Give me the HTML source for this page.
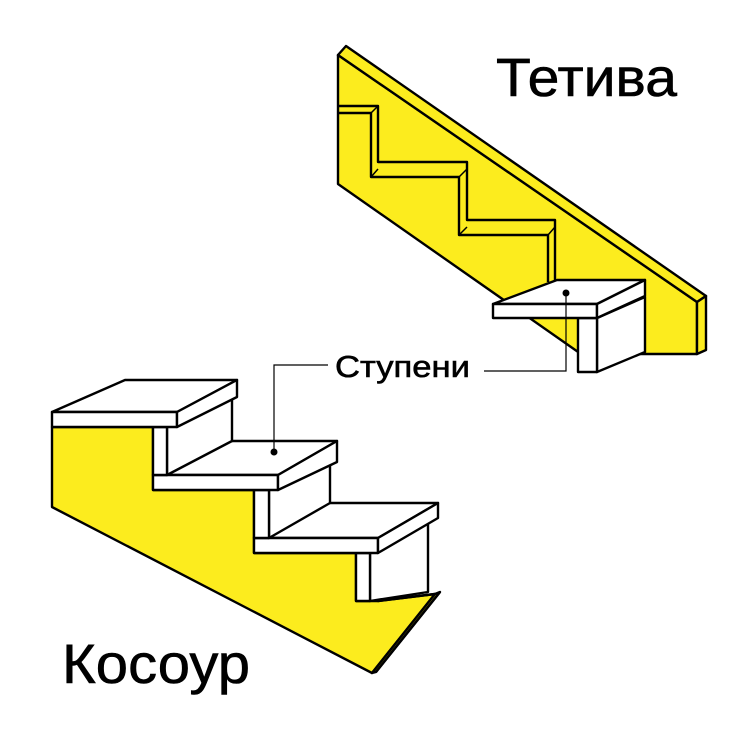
<!DOCTYPE html>
<html><head><meta charset="utf-8"><style>
html,body{margin:0;padding:0;background:#fff;}
svg{display:block}
text{font-family:"Liberation Sans",sans-serif;fill:#000;stroke:#000;stroke-width:0.6}
</style></head><body>
<svg width="740" height="740" viewBox="0 0 740 740" xmlns="http://www.w3.org/2000/svg">
<g stroke="#000" stroke-width="2.4" stroke-linejoin="round" fill="none">
<!-- Tetiva board -->
<polygon points="338,55 697,302 697,354 581,354 338,184" fill="#fcec1e"/>
<polygon points="338,55 346,46 706,296 697,302" fill="#fcec1e"/>
<polygon points="697,302 706,296 706,350 697,354" fill="#fcec1e"/>
<!-- groove -->
<polyline points="338,106 378,106 378,162 467,162 467,220 555,220 555,282"/>
<polyline points="338,113 371,113 371,177 459,177 459,235 548,235 548,282"/>
<line x1="371" y1="113" x2="378" y2="106" stroke-width="1.5"/>
<line x1="371" y1="177" x2="378" y2="169" stroke-width="1.5"/>
<line x1="459" y1="177" x2="467" y2="169" stroke-width="1.5"/>
<line x1="459" y1="235" x2="467" y2="227" stroke-width="1.5"/>
<line x1="548" y1="235" x2="555" y2="227" stroke-width="1.5"/>
<!-- tetiva step -->
<polygon points="597,318 645,297 645,352 597,372" fill="#fff"/>
<rect x="578" y="318" width="19" height="54" fill="#fff"/>
<polygon points="493,304 557,280 645,280 597,304" fill="#fff"/>
<rect x="493" y="304" width="104" height="14" fill="#fff"/>
<polygon points="597,304 645,280 645,296 597,318" fill="#fff"/>

<!-- Kosour stringer -->
<polygon points="52,427 153,427 153,490 254,490 254,553 356,553 356,601 378,601 435,594 372,673 52,507" fill="#fcec1e"/>
<polygon points="378,601 435,594 440,592 376,672 372,673 435,594" fill="#fcec1e"/>
<line x1="440" y1="592" x2="376" y2="672"/>
<!-- riser 3 -->
<polygon points="370,553 428,520 428,592 370,601" fill="#fff"/>
<rect x="356" y="553" width="14" height="48" fill="#fff"/>
<!-- tread 3 -->
<polygon points="254,538 323,503 438,503 378,538" fill="#fff"/>
<rect x="254" y="538" width="124" height="15" fill="#fff"/>
<polygon points="378,538 438,503 438,518 378,553" fill="#fff"/>
<!-- riser 2 -->
<polygon points="269,490 330,462 330,503 269,538" fill="#fff"/>
<rect x="254" y="490" width="15" height="48" fill="#fff"/>
<!-- tread 2 -->
<polygon points="153,475 226,441 337,441 278,475" fill="#fff"/>
<rect x="153" y="475" width="125" height="15" fill="#fff"/>
<polygon points="278,475 337,441 337,462 278,490" fill="#fff"/>
<!-- riser 1 -->
<polygon points="167,427 232,398 232,441 167,475" fill="#fff"/>
<rect x="153" y="427" width="14" height="48" fill="#fff"/>
<!-- tread 1 -->
<polygon points="52,412 125,380 237,380 177,412" fill="#fff"/>
<rect x="52" y="412" width="125" height="15" fill="#fff"/>
<polygon points="177,412 237,380 237,397 177,427" fill="#fff"/>
</g>
<!-- leader lines -->
<g stroke="#000" stroke-width="1.2" fill="none">
<polyline points="274,452 274,365 328,365"/>
<polyline points="484,371 566,371 566,293"/>
</g>
<circle cx="274" cy="452" r="3.5" fill="#000"/>
<circle cx="566" cy="293" r="3.5" fill="#000"/>
<text x="335" y="377" font-size="31" textLength="135" lengthAdjust="spacingAndGlyphs">Ступени</text>
<text x="496" y="96" font-size="54" textLength="181" lengthAdjust="spacingAndGlyphs">Тетива</text>
<text x="62" y="683" font-size="56" textLength="188" lengthAdjust="spacingAndGlyphs">Косоур</text>
</svg>
</body></html>
